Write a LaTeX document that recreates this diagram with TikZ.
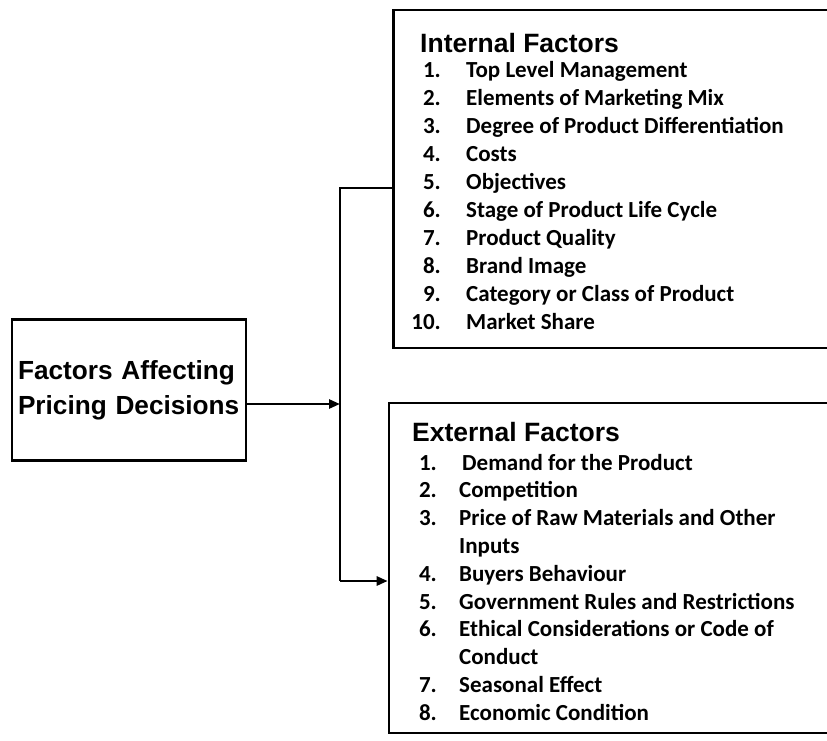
\documentclass[tikz,border=0pt]{standalone}
\usepackage{fontspec}
\setmainfont{Carlito}
\newfontfamily\headfont{Liberation Sans}
\usetikzlibrary{arrows.meta}

\tikzset{
  frame/.style={draw, line width=2.6pt, inner sep=0pt},
  link/.style={line width=2.6pt},
  arr/.style={link, -{Triangle[length=11pt,width=9pt]}},
  heading/.style={font=\headfont\bfseries\fontsize{26.5}{30}\selectfont, inner sep=0pt, anchor=base west},
  num/.style={font=\bfseries\fontsize{23}{27}\selectfont, inner sep=0pt, anchor=base east},
  item/.style={font=\bfseries\fontsize{23}{27}\selectfont, inner sep=0pt, anchor=base west},
}

\begin{document}
\begin{tikzpicture}[x=1pt, y=-1pt]
  \useasboundingbox (0,0) rectangle (827,740);
  \clip (0,0) rectangle (827,740);

  % main box
  \node[frame, minimum height=141pt, inner xsep=6pt, text width=222pt, align=left,
        font=\headfont\bfseries\fontsize{26.2}{35}\selectfont] (fac) at (129,390)
        {\mbox{Factors Affecting}\\\mbox{Pricing Decisions}};

  % the two factor boxes (open to the right)
  \node[frame, minimum width=467pt, minimum height=338pt] (intbox) at (627,179) {};
  \node[frame, minimum width=470pt, minimum height=330pt] (extbox) at (624,568) {};

  % internal factors
  \node[heading] (inthead) at (420,52) {Internal Factors};
  \foreach \t [count=\i] in {Top Level Management, Elements of Marketing Mix,
      Degree of Product Differentiation, Costs, Objectives,
      Stage of Product Life Cycle, Product Quality, Brand Image,
      Category or Class of Product, Market Share} {
    \node[num]  (inum\i) at (441,{77+(\i-1)*28.1}) {\i.};
    \node[item] (itxt\i) at (466,{77+(\i-1)*28.1}) {\t};
  }

  % external factors
  \node[heading] (exthead) at (412,441) {External Factors};
  \foreach \n/\t/\r in {1/\hspace{3pt}Demand for the Product/0, 2/Competition/1,
      3/Price of Raw Materials and Other/2, 4/Buyers Behaviour/4,
      5/Government Rules and Restrictions/5,
      6/Ethical Considerations or Code of/6, 7/Seasonal Effect/8,
      8/Economic Condition/9} {
    \node[num]  (enum\n) at (437,{470+\r*27.8}) {\n.};
    \node[item] (etxt\n) at (459,{470+\r*27.8}) {\t};
  }
  \node[item] (etxt3b) at (459,{470+3*27.8}) {Inputs};
  \node[item] (etxt6b) at (459,{470+7*27.8}) {Conduct};

  % connectors
  \coordinate (split) at (340,404);
  \coordinate (top)   at (340,188);
  \coordinate (bot)   at (340,581);
  \draw[arr] (fac.east |- split) -- (split);
  \draw[link] (intbox.west |- top) -- (top) -- (bot);
  \draw[arr] (bot) -- (extbox.west |- bot);
\end{tikzpicture}
\end{document}
